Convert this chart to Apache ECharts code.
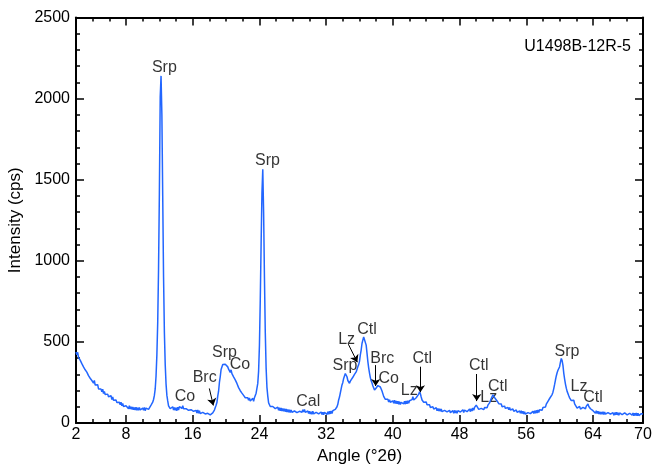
<!DOCTYPE html>
<html>
<head>
<meta charset="utf-8">
<script src="https://cdn.jsdelivr.net/npm/echarts@6/dist/echarts.min.js"></script>
<style>
  html, body { margin: 0; padding: 0; background: #fff; }
  #chart { width: 656px; height: 464px; }
</style>
</head>
<body>
<div id="chart"></div>
<script>
// scan grid: 2 to 70 °2θ, 0.1° step
const startAngle = 2
const stepAngle = 0.1

// intensity (cps), one row per degree (x.0 ... x.9)
const intensity = [
  438, 420, 436, 405, 408, 388, 386, 366, 366, 346,
  346, 328, 324, 314, 311, 292, 296, 276, 281, 262,
  271, 246, 262, 234, 242, 222, 236, 210, 222, 202,
  209, 192, 208, 182, 195, 176, 184, 170, 178, 162,
  168, 152, 168, 144, 160, 140, 152, 134, 142, 126,
  132, 122, 128, 112, 128, 106, 120, 102, 114, 98,
  106, 94, 104, 88, 106, 86, 100, 84, 98, 82,
  96, 80, 98, 78, 94, 78, 96, 80, 90, 82,
  92, 78, 96, 76, 92, 82, 90, 84, 96, 92,
  110, 118, 128, 145, 170, 210, 290, 420, 620, 950,
  1420, 2010, 2140, 1900, 1400, 900, 560, 360, 240, 170,
  136, 106, 106, 88, 98, 82, 100, 80, 96, 78,
  94, 76, 98, 80, 101, 92, 108, 90, 106, 88,
  96, 80, 88, 82, 86, 78, 84, 76, 82, 74,
  80, 72, 76, 70, 78, 62, 80, 60, 76, 58,
  68, 62, 66, 58, 64, 56, 62, 54, 60, 52,
  58, 50, 56, 48, 62, 62, 80, 84, 110, 126,
  166, 196, 250, 286, 330, 336, 360, 366, 366, 362,
  356, 352, 346, 332, 331, 312, 328, 304, 311, 284,
  286, 266, 268, 244, 246, 218, 221, 199, 204, 184,
  190, 170, 176, 156, 164, 148, 156, 140, 154, 136,
  148, 132, 152, 134, 156, 156, 184, 196, 244, 320,
  480, 760, 1100, 1416, 1564, 1300, 900, 560, 340, 220,
  166, 124, 121, 102, 106, 98, 102, 90, 98, 89,
  96, 80, 98, 78, 94, 76, 92, 74, 90, 72,
  88, 70, 86, 68, 84, 66, 82, 64, 80, 66,
  76, 68, 74, 66, 72, 64, 74, 66, 72, 64,
  74, 66, 82, 68, 84, 66, 76, 60, 74, 58,
  72, 56, 70, 54, 72, 56, 64, 58, 66, 56,
  64, 56, 66, 50, 68, 52, 66, 50, 66, 56,
  66, 52, 70, 54, 72, 56, 74, 58, 76, 66,
  80, 84, 92, 100, 115, 142, 160, 185, 210, 235,
  250, 275, 290, 305, 300, 285, 262, 250, 245, 258,
  265, 270, 282, 290, 300, 308, 315, 325, 347, 360,
  380, 420, 450, 490, 511, 530, 542, 520, 480, 431,
  380, 340, 308, 280, 260, 246, 230, 220, 203, 200,
  216, 209, 231, 226, 240, 222, 221, 197, 191, 164,
  166, 146, 154, 136, 146, 130, 144, 128, 138, 129,
  137, 122, 140, 120, 136, 118, 134, 116, 132, 114,
  127, 120, 124, 118, 134, 116, 136, 119, 138, 122,
  137, 130, 148, 144, 162, 142, 146, 139, 156, 149,
  162, 178, 193, 180, 160, 142, 135, 128, 125, 126,
  129, 112, 121, 104, 112, 96, 106, 90, 100, 86,
  96, 80, 94, 76, 90, 74, 88, 72, 86, 70,
  80, 72, 78, 70, 76, 68, 78, 62, 78, 64,
  74, 66, 76, 60, 78, 62, 76, 60, 76, 66,
  76, 68, 74, 66, 82, 64, 80, 72, 78, 70,
  80, 72, 86, 70, 88, 74, 92, 78, 96, 92,
  110, 115, 100, 84, 88, 76, 90, 80, 96, 82,
  96, 86, 102, 94, 110, 105, 124, 124, 151, 154,
  174, 166, 171, 149, 154, 136, 138, 119, 124, 108,
  117, 100, 110, 94, 104, 90, 100, 86, 96, 82,
  96, 80, 90, 76, 86, 72, 82, 72, 80, 66,
  76, 66, 74, 60, 76, 58, 72, 56, 70, 54,
  66, 56, 64, 56, 66, 58, 64, 56, 72, 58,
  76, 60, 78, 62, 80, 64, 82, 72, 88, 78,
  96, 88, 104, 98, 116, 115, 134, 130, 151, 146,
  162, 175, 190, 212, 238, 265, 290, 310, 325, 335,
  347, 375, 398, 385, 355, 306, 270, 240, 215, 195,
  183, 168, 155, 145, 138, 131, 150, 140, 118, 108,
  106, 92, 102, 88, 102, 86, 96, 88, 96, 86,
  96, 88, 104, 98, 117, 102, 106, 88, 94, 76,
  76, 68, 74, 60, 76, 58, 72, 56, 70, 54,
  68, 54, 70, 52, 68, 54, 62, 54, 64, 56,
  64, 54, 62, 54, 64, 48, 64, 50, 66, 50,
  64, 48, 62, 54, 60, 52, 62, 46, 62, 52,
  60, 50, 58, 50, 60, 52, 58, 48, 62, 44,
  60, 46, 62, 44, 60, 46, 56, 48, 58, 50,
  54
]

const xLabels = [2, 8, 16, 24, 32, 40, 48, 56, 64, 70]
const xMinorTicks = [2, 4, 6, 8, 10, 12, 14, 16, 18, 20, 22, 24, 26, 28, 30, 32, 34,
  36, 38, 40, 42, 44, 46, 48, 50, 52, 54, 56, 58, 60, 62, 64, 66, 68, 70]

// phase labels [name, angle, intensity] (text centre)
const phaseLabels = [
  ['Srp', 12.6, 2192], ['Srp', 24.97, 1619], ['Co', 15.07, 160], ['Brc', 17.43, 277],
  ['Srp', 19.81, 434], ['Co', 21.67, 363], ['Cal', 29.86, 129], ['Srp', 34.26, 351],
  ['Lz', 34.46, 514], ['Ctl', 36.9, 576], ['Brc', 38.74, 400], ['Co', 39.5, 271],
  ['Lz', 41.96, 200], ['Ctl', 43.52, 400], ['Ctl', 50.31, 351], ['Lz', 51.5, 154],
  ['Ctl', 52.59, 224], ['Srp', 60.89, 443], ['Lz', 62.33, 225], ['Ctl', 64.0, 154]
]

// arrows [fromAngle, fromI, toAngle, toI]
const arrows = [
  [17.99, 213, 18.47, 108],
  [34.66, 486, 35.74, 375],
  [37.94, 357, 37.94, 228],
  [43.3, 347, 43.3, 190],
  [50.06, 302, 50.06, 135]
]

const font = '"Liberation Sans", Arial, Helvetica, sans-serif'
const points = intensity.map((v, i) => [+(startAngle + i * stepAngle).toFixed(1), v])

const axisLine = { show: true, lineStyle: { color: '#000', width: 2 } }
const frameX = (position) => ({
  type: 'value', position, min: 2, max: 70,
  axisLine,
  axisTick: { show: true, inside: true, length: 4, customValues: xMinorTicks, lineStyle: { color: '#000', width: 1.5 } },
  axisLabel: { show: false },
  splitLine: { show: false }
})
const majorX = (position) => ({
  type: 'value', position, min: 2, max: 70,
  axisLine: { show: false },
  axisTick: { show: true, inside: true, length: 8, customValues: xLabels, lineStyle: { color: '#000', width: 1.5 } },
  axisLabel: { show: false },
  splitLine: { show: false }
})
const frameY = (position) => ({
  type: 'value', position, min: 0, max: 2500, interval: 500,
  axisLine,
  axisTick: { show: true, inside: true, length: 8, lineStyle: { color: '#000', width: 1.5 } },
  minorTick: { show: true, splitNumber: 5, length: 4, lineStyle: { color: '#000', width: 1.5 } },
  axisLabel: { show: false },
  splitLine: { show: false },
  minorSplitLine: { show: false }
})

const xBottom = frameX('bottom')
xBottom.axisLabel = {
  show: true, customValues: xLabels, color: '#000', fontSize: 16, fontFamily: font, margin: 4
}
xBottom.name = 'Angle (°2θ)'
xBottom.nameLocation = 'middle'
xBottom.nameGap = 22
xBottom.nameTextStyle = { color: '#000', fontSize: 17, fontFamily: font }

const yLeft = frameY('left')
yLeft.axisLabel = {
  show: true, color: '#000', fontSize: 16, fontFamily: font, margin: 6,
  formatter: v => String(v)
}
yLeft.name = 'Intensity (cps)'
yLeft.nameLocation = 'middle'
yLeft.nameGap = 47
yLeft.nameTextStyle = { color: '#000', fontSize: 17, fontFamily: font }

const chart = echarts.init(document.getElementById('chart'))
chart.setOption({
  animation: false,
  backgroundColor: '#fff',
  title: {
    text: 'U1498B-12R-5', right: 20, top: 34,
    textStyle: { color: '#000', fontSize: 16, fontWeight: 'normal', fontFamily: font }
  },
  grid: { left: 76, right: 13, top: 17.5, bottom: 41, outerBoundsMode: 'none' },
  xAxis: [xBottom, majorX('bottom'), frameX('top'), majorX('top')],
  yAxis: [yLeft, frameY('right')],
  series: [
    {
      type: 'line',
      data: points,
      showSymbol: false,
      lineStyle: { color: '#2266ff', width: 1.5 },
      markLine: {
        silent: true,
        symbol: ['none', 'arrow'],
        symbolSize: 7,
        label: { show: false },
        lineStyle: { color: '#000', width: 1, type: 'solid' },
        data: arrows.map(a => [{ coord: [a[0], a[1]] }, { coord: [a[2], a[3]] }])
      }
    },
    {
      type: 'scatter',
      symbolSize: 0,
      silent: true,
      data: phaseLabels.map(p => ({ name: p[0], value: [p[1], p[2]] })),
      label: {
        show: true, position: 'inside', formatter: '{b}',
        color: '#000', fontSize: 16, fontFamily: font
      }
    }
  ]
})
</script>
</body>
</html>
